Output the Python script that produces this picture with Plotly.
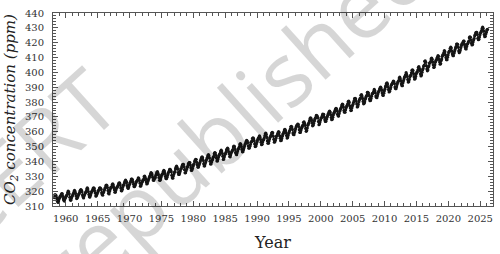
import plotly.graph_objects as go

# Monthly mean CO2 (ppm), Mauna Loa, starting March 1958
start_year = 1958
start_month = 3

co2_1958_1969 = [
    315.70, 317.45, 317.51, 317.24, 315.86, 314.93, 313.20, 312.43, 313.33, 314.67,
    315.58, 316.49, 316.65, 317.72, 318.29, 318.15, 316.54, 314.80, 313.84, 313.33, 314.81, 315.58,
    316.43, 316.98, 317.58, 319.03, 320.04, 319.59, 318.18, 315.90, 314.17, 313.83, 315.00, 316.19,
    316.89, 317.70, 318.54, 319.48, 320.58, 319.77, 318.57, 316.79, 314.99, 315.31, 316.10, 317.01,
    317.94, 318.55, 319.68, 320.57, 321.02, 320.62, 319.61, 317.40, 316.25, 315.42, 316.69, 317.70,
    318.74, 319.07, 319.86, 321.38, 322.25, 321.48, 319.74, 317.77, 316.21, 315.99, 317.07, 318.35,
    319.57, 320.01, 320.74, 321.84, 322.26, 321.89, 320.44, 318.69, 316.70, 316.87, 317.68, 318.71,
    319.44, 320.44, 320.89, 322.14, 322.17, 321.87, 321.21, 318.87, 317.82, 317.30, 318.87, 319.42,
    320.62, 321.60, 322.39, 323.70, 324.08, 323.75, 322.38, 320.36, 318.64, 318.10, 319.78, 321.03,
    322.33, 322.50, 323.04, 324.42, 325.00, 324.09, 322.54, 320.92, 319.25, 319.39, 320.73, 321.96,
    322.57, 323.15, 323.89, 325.02, 325.57, 325.36, 324.14, 322.11, 320.33, 320.25, 321.32, 322.89,
    324.00, 324.42, 325.63, 326.66, 327.38, 326.71, 325.88, 323.66, 322.38, 321.78, 322.86, 324.12,
]
co2_1970s = [
    325.06, 325.98, 326.93, 328.13, 328.08, 327.67, 326.34, 324.69, 323.10, 323.06, 324.01, 325.13,
    326.17, 326.68, 327.17, 327.79, 328.93, 328.57, 327.36, 325.43, 323.36, 323.56, 324.80, 326.01,
    326.77, 327.63, 327.75, 329.72, 330.07, 329.09, 328.04, 326.32, 324.84, 325.20, 326.50, 327.55,
    328.55, 329.56, 330.30, 331.50, 332.48, 332.07, 330.87, 329.31, 327.51, 327.18, 328.16, 328.64,
    329.35, 330.71, 331.48, 332.65, 333.19, 332.20, 331.07, 329.15, 327.33, 327.28, 328.31, 329.58,
    330.73, 331.46, 331.90, 333.17, 333.94, 333.45, 331.97, 329.95, 328.50, 328.34, 329.37, 330.58,
    331.59, 332.75, 333.52, 334.64, 334.77, 334.00, 333.06, 330.68, 328.95, 328.75, 330.15, 331.62,
    332.66, 333.13, 334.95, 336.13, 336.93, 336.17, 334.88, 332.56, 331.29, 331.27, 332.41, 333.60,
    334.95, 335.25, 336.66, 337.69, 338.03, 338.01, 336.41, 334.41, 332.37, 332.41, 333.75, 334.90,
    336.14, 336.69, 338.27, 338.95, 339.21, 339.26, 337.54, 335.75, 333.98, 334.19, 335.31, 336.81,
]
co2_1980s = [
    337.90, 338.34, 340.01, 340.93, 341.48, 341.33, 339.40, 337.70, 336.19, 336.15, 337.27, 338.32,
    339.29, 340.55, 341.61, 342.53, 343.03, 342.54, 340.78, 338.44, 336.95, 337.08, 338.58, 339.88,
    340.96, 341.73, 342.81, 343.97, 344.63, 343.79, 342.32, 340.09, 338.28, 338.29, 339.60, 340.90,
    341.68, 342.90, 343.33, 345.25, 346.03, 345.63, 344.19, 342.27, 340.35, 340.38, 341.59, 343.05,
    344.10, 344.79, 345.52, 346.84, 347.63, 346.98, 345.53, 343.55, 341.40, 341.67, 343.10, 344.70,
    345.21, 346.16, 347.74, 348.34, 349.06, 348.38, 346.72, 345.02, 343.27, 343.13, 344.49, 345.88,
    346.56, 347.28, 348.01, 349.77, 350.38, 349.93, 348.16, 346.08, 345.22, 344.51, 345.93, 347.21,
    348.52, 348.73, 349.73, 351.31, 352.09, 351.53, 350.11, 348.08, 346.52, 346.59, 347.96, 349.16,
    350.39, 351.64, 352.41, 353.69, 354.21, 353.72, 352.69, 350.40, 348.92, 349.13, 350.20, 351.41,
    352.91, 353.27, 353.96, 355.64, 355.86, 355.37, 353.99, 351.81, 350.05, 350.25, 351.49, 352.85,
]
co2_1990s = [
    353.80, 355.04, 355.73, 356.32, 357.32, 356.34, 354.84, 353.01, 351.31, 351.62, 353.07, 354.33,
    354.84, 355.73, 357.23, 358.66, 359.13, 358.13, 356.19, 353.85, 352.25, 352.35, 353.81, 355.12,
    356.25, 357.11, 357.86, 359.09, 359.59, 359.33, 357.01, 354.94, 352.96, 353.32, 354.32, 355.57,
    357.00, 357.31, 358.47, 359.27, 360.19, 359.52, 357.33, 355.64, 354.03, 354.12, 355.41, 356.91,
    358.24, 358.92, 359.99, 361.23, 361.65, 360.81, 359.38, 357.46, 355.73, 356.07, 357.53, 358.98,
    359.92, 360.86, 361.83, 363.30, 363.69, 363.19, 361.64, 359.12, 358.17, 357.99, 359.45, 360.68,
    362.07, 363.24, 364.17, 364.57, 365.13, 364.92, 363.55, 361.38, 359.54, 359.58, 360.89, 362.24,
    363.09, 364.03, 364.51, 366.35, 366.64, 365.59, 364.31, 362.25, 360.29, 360.82, 362.49, 364.38,
    365.26, 365.98, 367.24, 368.66, 369.42, 368.99, 367.82, 365.95, 364.02, 364.40, 365.52, 367.13,
    368.18, 369.07, 369.68, 370.99, 370.96, 370.30, 369.45, 366.90, 364.81, 365.37, 366.72, 368.10,
]
co2_2000s = [
    369.29, 369.54, 370.60, 371.82, 371.58, 371.70, 369.86, 368.13, 367.00, 367.03, 368.37, 369.67,
    370.59, 371.51, 372.43, 373.37, 373.85, 373.22, 371.51, 369.61, 368.18, 368.45, 369.76, 371.24,
    372.53, 373.20, 374.12, 375.02, 375.76, 375.52, 374.01, 371.85, 370.75, 370.55, 372.25, 373.79,
    374.88, 375.64, 376.45, 377.73, 378.60, 378.28, 376.70, 374.38, 373.17, 373.15, 374.66, 375.99,
    377.00, 377.87, 378.88, 380.35, 380.62, 379.69, 377.47, 376.01, 374.25, 374.46, 376.16, 377.51,
    378.46, 379.73, 380.77, 382.29, 382.45, 382.21, 380.74, 378.74, 376.70, 377.00, 378.35, 380.11,
    381.38, 382.19, 382.67, 384.61, 385.03, 384.05, 382.46, 380.41, 378.85, 379.13, 380.15, 381.82,
    382.89, 383.90, 384.58, 386.50, 386.56, 386.10, 384.50, 381.99, 380.96, 381.12, 382.45, 383.95,
    385.52, 385.82, 386.03, 387.21, 388.54, 387.76, 386.36, 384.09, 383.18, 382.99, 384.19, 385.56,
    386.94, 387.48, 388.82, 389.55, 390.14, 389.48, 388.03, 386.11, 384.74, 384.43, 386.02, 387.42,
]
co2_2010s = [
    388.71, 390.20, 391.17, 392.46, 393.00, 392.15, 390.20, 388.35, 386.85, 387.24, 388.67, 389.79,
    391.33, 391.86, 392.60, 393.25, 394.19, 393.74, 392.51, 390.13, 389.08, 389.00, 390.28, 391.86,
    393.12, 393.86, 394.40, 396.18, 396.74, 395.71, 394.36, 392.39, 391.11, 391.05, 392.98, 394.34,
    395.55, 396.80, 397.43, 398.41, 399.78, 398.60, 397.32, 395.20, 393.45, 393.70, 395.16, 396.84,
    397.85, 398.01, 399.77, 401.38, 401.78, 401.25, 399.10, 397.03, 395.38, 396.03, 397.28, 398.91,
    399.98, 400.28, 401.54, 403.28, 403.96, 402.80, 401.31, 398.93, 397.63, 398.29, 400.16, 401.85,
    402.56, 404.12, 404.87, 407.45, 407.72, 406.83, 404.41, 402.27, 401.05, 401.59, 403.55, 404.45,
    406.17, 406.46, 407.22, 409.04, 409.69, 408.88, 407.12, 405.13, 403.37, 403.63, 405.12, 406.81,
    407.96, 408.32, 409.41, 410.24, 411.24, 410.79, 408.71, 406.99, 405.51, 405.95, 408.02, 409.07,
    410.83, 411.75, 411.97, 413.32, 414.66, 413.92, 411.77, 409.95, 408.54, 408.53, 410.27, 411.76,
]
co2_2020s = [
    413.40, 414.11, 414.51, 416.21, 417.07, 416.38, 414.38, 412.55, 411.29, 411.28, 412.89, 414.02,
    415.23, 416.45, 417.31, 419.05, 419.13, 418.94, 416.96, 414.47, 413.30, 413.93, 415.01, 416.71,
    418.19, 419.28, 418.81, 420.23, 420.99, 420.99, 418.90, 417.19, 415.95, 415.78, 417.51, 418.95,
    419.47, 420.41, 420.99, 423.36, 424.00, 423.68, 421.83, 419.68, 418.51, 418.82, 420.46, 421.86,
    422.80, 424.55, 425.38, 426.57, 426.90, 426.91, 425.55, 422.99, 422.03, 422.38, 423.85, 425.40,
    426.65, 427.09, 428.15, 429.64, 430.51, 429.61, 427.87, 425.48, 424.00, 424.30, 425.80, 427.10,
    428.40, 429.00,
]

x_ticks = [1960, 1965, 1970, 1975, 1980, 1985, 1990, 1995, 2000, 2005, 2010, 2015, 2020, 2025]
y_ticks = [310, 320, 330, 340, 350, 360, 370, 380, 390, 400, 410, 420, 430, 440]

co2 = co2_1958_1969 + co2_1970s + co2_1980s + co2_1990s + co2_2000s + co2_2010s + co2_2020s
dates = [start_year + (start_month - 1 + i + 0.5) / 12.0 for i in range(len(co2))]

W, H = 500, 254
ML, MR, MT, MB = 53, 6, 13, 41
PW, PH = W - ML - MR, H - MT - MB

def px(x):
    return (x - ML) / PW

def py(y):
    return (H - MB - y) / PH

fig = go.Figure()
fig.add_trace(go.Scatter(
    x=dates, y=co2, mode="lines+markers",
    line=dict(color="#151515", width=1.2),
    marker=dict(color="#151515", size=3.2),
    showlegend=False,
))

tickfont = dict(family="DejaVu Serif", size=10, color="#333333")
axis_common = dict(
    showline=True, linecolor="#555555", linewidth=1, mirror="allticks",
    ticks="inside", tickcolor="#555555", ticklen=5, tickwidth=1,
    showgrid=False, zeroline=False, tickfont=tickfont,
)
fig.update_xaxes(
    range=[1958, 2027], tickvals=x_ticks, ticktext=[str(v) for v in x_ticks],
    minor=dict(dtick=1, tick0=1960, ticks="inside", ticklen=3, tickcolor="#555555", showgrid=False),
    title=dict(text="Year", font=dict(family="DejaVu Serif", size=16, color="#222222"), standoff=13),
    ticklabelstandoff=3,
    **axis_common,
)
fig.update_yaxes(
    range=[310, 440], tickvals=y_ticks, ticktext=[str(v) for v in y_ticks],
    minor=dict(dtick=2, tick0=310, ticks="inside", ticklen=3, tickcolor="#555555", showgrid=False),
    title=dict(text="<i>CO<sub>2</sub> concentration (ppm)</i>",
               font=dict(family="DejaVu Serif", size=15, color="#222222"), standoff=5),
    ticklabelstandoff=6,
    **axis_common,
)

wm_font = dict(family="Open Sans", size=88, color="rgba(0,0,0,0.16)")
fig.add_annotation(text="not to be republished", xref="paper", yref="paper",
                   x=px(86), y=py(259), xanchor="center", yanchor="middle",
                   showarrow=False, textangle=-42, font=wm_font)
fig.add_annotation(text="© NCERT", xref="paper", yref="paper",
                   x=px(-36), y=py(217), xanchor="center", yanchor="middle",
                   showarrow=False, textangle=-42, font=wm_font)

fig.update_layout(
    width=W, height=H, margin=dict(l=ML, r=MR, t=MT, b=MB),
    plot_bgcolor="white", paper_bgcolor="white",
)

fig.write_html("out.html")
